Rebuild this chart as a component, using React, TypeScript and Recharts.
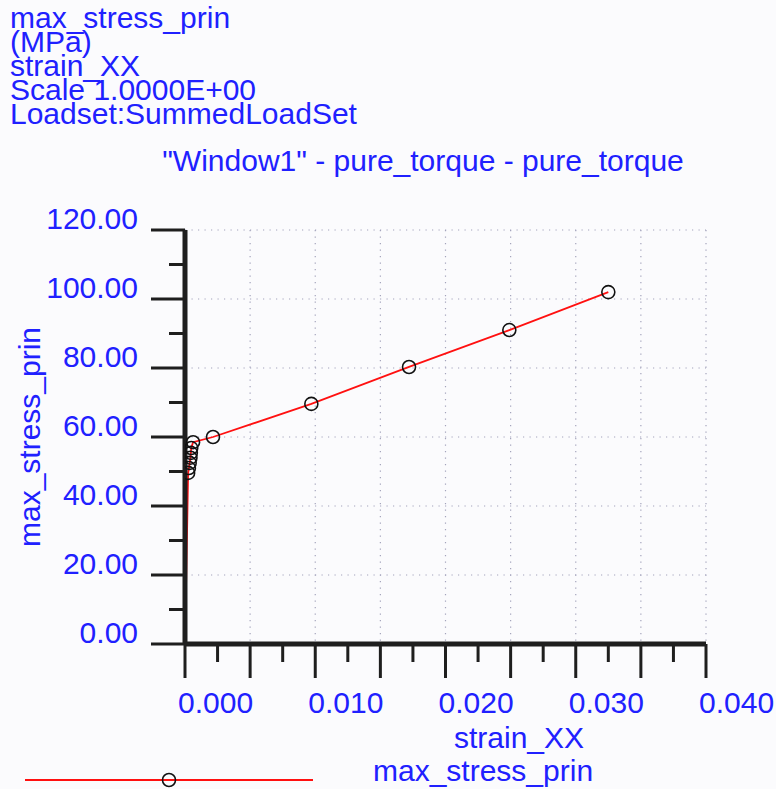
import { LineChart, Line, XAxis, YAxis, CartesianGrid, Legend } from 'recharts';

// valeurs
const strainXX = [0, 0.00024, 0.0003, 0.00036, 0.00042, 0.00045, 0.00048, 0.00062, 0.00215, 0.0097, 0.0172, 0.0249, 0.0325];
const maxStressPrin = [0, 49.6, 51.0, 52.5, 54.0, 55.4, 56.8, 58.5, 60.0, 69.6, 80.3, 91.0, 102.0];

const xTicks = [0, 0.0025, 0.005, 0.0075, 0.01, 0.0125, 0.015, 0.0175, 0.02, 0.0225, 0.025, 0.0275, 0.03, 0.0325, 0.035, 0.0375, 0.04];
const xGrid = [0.005, 0.01, 0.015, 0.02, 0.025, 0.03, 0.035, 0.04];
const yTicks = [0, 10, 20, 30, 40, 50, 60, 70, 80, 90, 100, 110, 120];
const yGrid = [20, 40, 60, 80, 100, 120];

const headerLines = ['max_stress_prin', '(MPa)', 'strain_XX', 'Scale 1.0000E+00', 'Loadset:SummedLoadSet'];
const title = '"Window1" - pure_torque - pure_torque';
const seriesName = 'max_stress_prin';

const data = strainXX.map((s, i) => ({ strain: s, stress: maxStressPrin[i] }));

const BLUE = '#2020ff';
const AXIS = '#1e1e1e';
const FONT = '"Liberation Sans", Arial, sans-serif';

const isMultiple = (v: number, step: number) => Math.abs(v / step - Math.round(v / step)) < 1e-6;

const XTick = (props: any) => {
  const { x, y, payload } = props;
  const v = payload.value;
  const major = isMultiple(v, 0.005);
  return (
    <g>
      <line x1={x} y1={y} x2={x} y2={y + (major ? 34 : 18)} stroke={AXIS} strokeWidth={3} />
      {isMultiple(v, 0.01) && (
        <text x={x - 7} y={y + 69} textAnchor="start" fill={BLUE} fontSize={30} fontFamily={FONT}>
          {v.toFixed(3)}
        </text>
      )}
    </g>
  );
};

const YTick = (props: any) => {
  const { x, y, payload } = props;
  const v = payload.value;
  const major = isMultiple(v, 20);
  return (
    <g>
      <line x1={x - (major ? 34 : 16)} y1={y} x2={x} y2={y} stroke={AXIS} strokeWidth={3} />
      {major && (
        <text x={x - 47} y={y - 1} textAnchor="end" fill={BLUE} fontSize={30} fontFamily={FONT}>
          {v.toFixed(2)}
        </text>
      )}
    </g>
  );
};

const Marker = (props: any) => {
  const { cx, cy, index } = props;
  if (index === 0) return <g key={`m${index}`} />;
  return <circle key={`m${index}`} cx={cx} cy={cy} r={6.5} fill="none" stroke="#111" strokeWidth={1.6} />;
};

const renderLegend = (props: any) => {
  const entry = props.payload && props.payload[0];
  return (
    <svg width={776} height={31} style={{ display: 'block' }}>
      <line x1={25} y1={22} x2={313} y2={22} stroke={entry ? entry.color : 'red'} strokeWidth={1.8} />
      <circle cx={169} cy={22} r={6.5} fill="none" stroke="#111" strokeWidth={1.6} />
      <text x={373} y={23} fill={BLUE} fontSize={30} fontFamily={FONT}>
        {entry ? entry.value : seriesName}
      </text>
    </svg>
  );
};

export default function App() {
  return (
    <div style={{ position: 'absolute', left: 0, top: 0, width: 776, height: 789, background: '#fbfbfd', overflow: 'hidden' }}>
      <LineChart
        width={776}
        height={789}
        data={data}
        margin={{ top: 230, right: 70, bottom: 0, left: 0 }}
      >
        <CartesianGrid
          stroke="#a4a4bc"
          strokeWidth={1.2}
          strokeDasharray="1.2 5.3"
          horizontalValues={yGrid}
          verticalValues={xGrid}
        />
        <XAxis
          type="number"
          dataKey="strain"
          domain={[0, 0.04]}
          ticks={xTicks}
          interval={0}
          height={145}
          tickSize={0}
          tickMargin={0}
          tickLine={false}
          axisLine={{ stroke: AXIS, strokeWidth: 5 }}
          tick={<XTick />}
          allowDataOverflow
        />
        <YAxis
          type="number"
          domain={[0, 120]}
          ticks={yTicks}
          interval={0}
          width={185}
          tickSize={0}
          tickMargin={0}
          tickLine={false}
          axisLine={{ stroke: AXIS, strokeWidth: 5 }}
          tick={<YTick />}
          allowDataOverflow
        />
        <Legend
          layout="horizontal"
          verticalAlign="middle"
          align="center"
          content={renderLegend}
          wrapperStyle={{ position: 'absolute', left: 0, top: 758, width: 776, height: 31 }}
        />
        <Line
          type="linear"
          dataKey="stress"
          name={seriesName}
          stroke="#ff1010"
          strokeWidth={1.8}
          dot={<Marker />}
          activeDot={false}
          isAnimationActive={false}
        />
      </LineChart>
      <svg width={776} height={789} style={{ position: 'absolute', left: 0, top: 0, pointerEvents: 'none' }}>
        <g fill={BLUE} fontSize={30} fontFamily={FONT}>
          {headerLines.map((t, i) => (
            <text key={t} x={10} y={28 + i * 24}>{t}</text>
          ))}
          <text x={423} y={171} textAnchor="middle">{title}</text>
          <text x={519} y={748} textAnchor="middle">strain_XX</text>
          <text x={40} y={437} textAnchor="middle" transform="rotate(-90 40 437)">max_stress_prin</text>
        </g>
      </svg>
    </div>
  );
}
